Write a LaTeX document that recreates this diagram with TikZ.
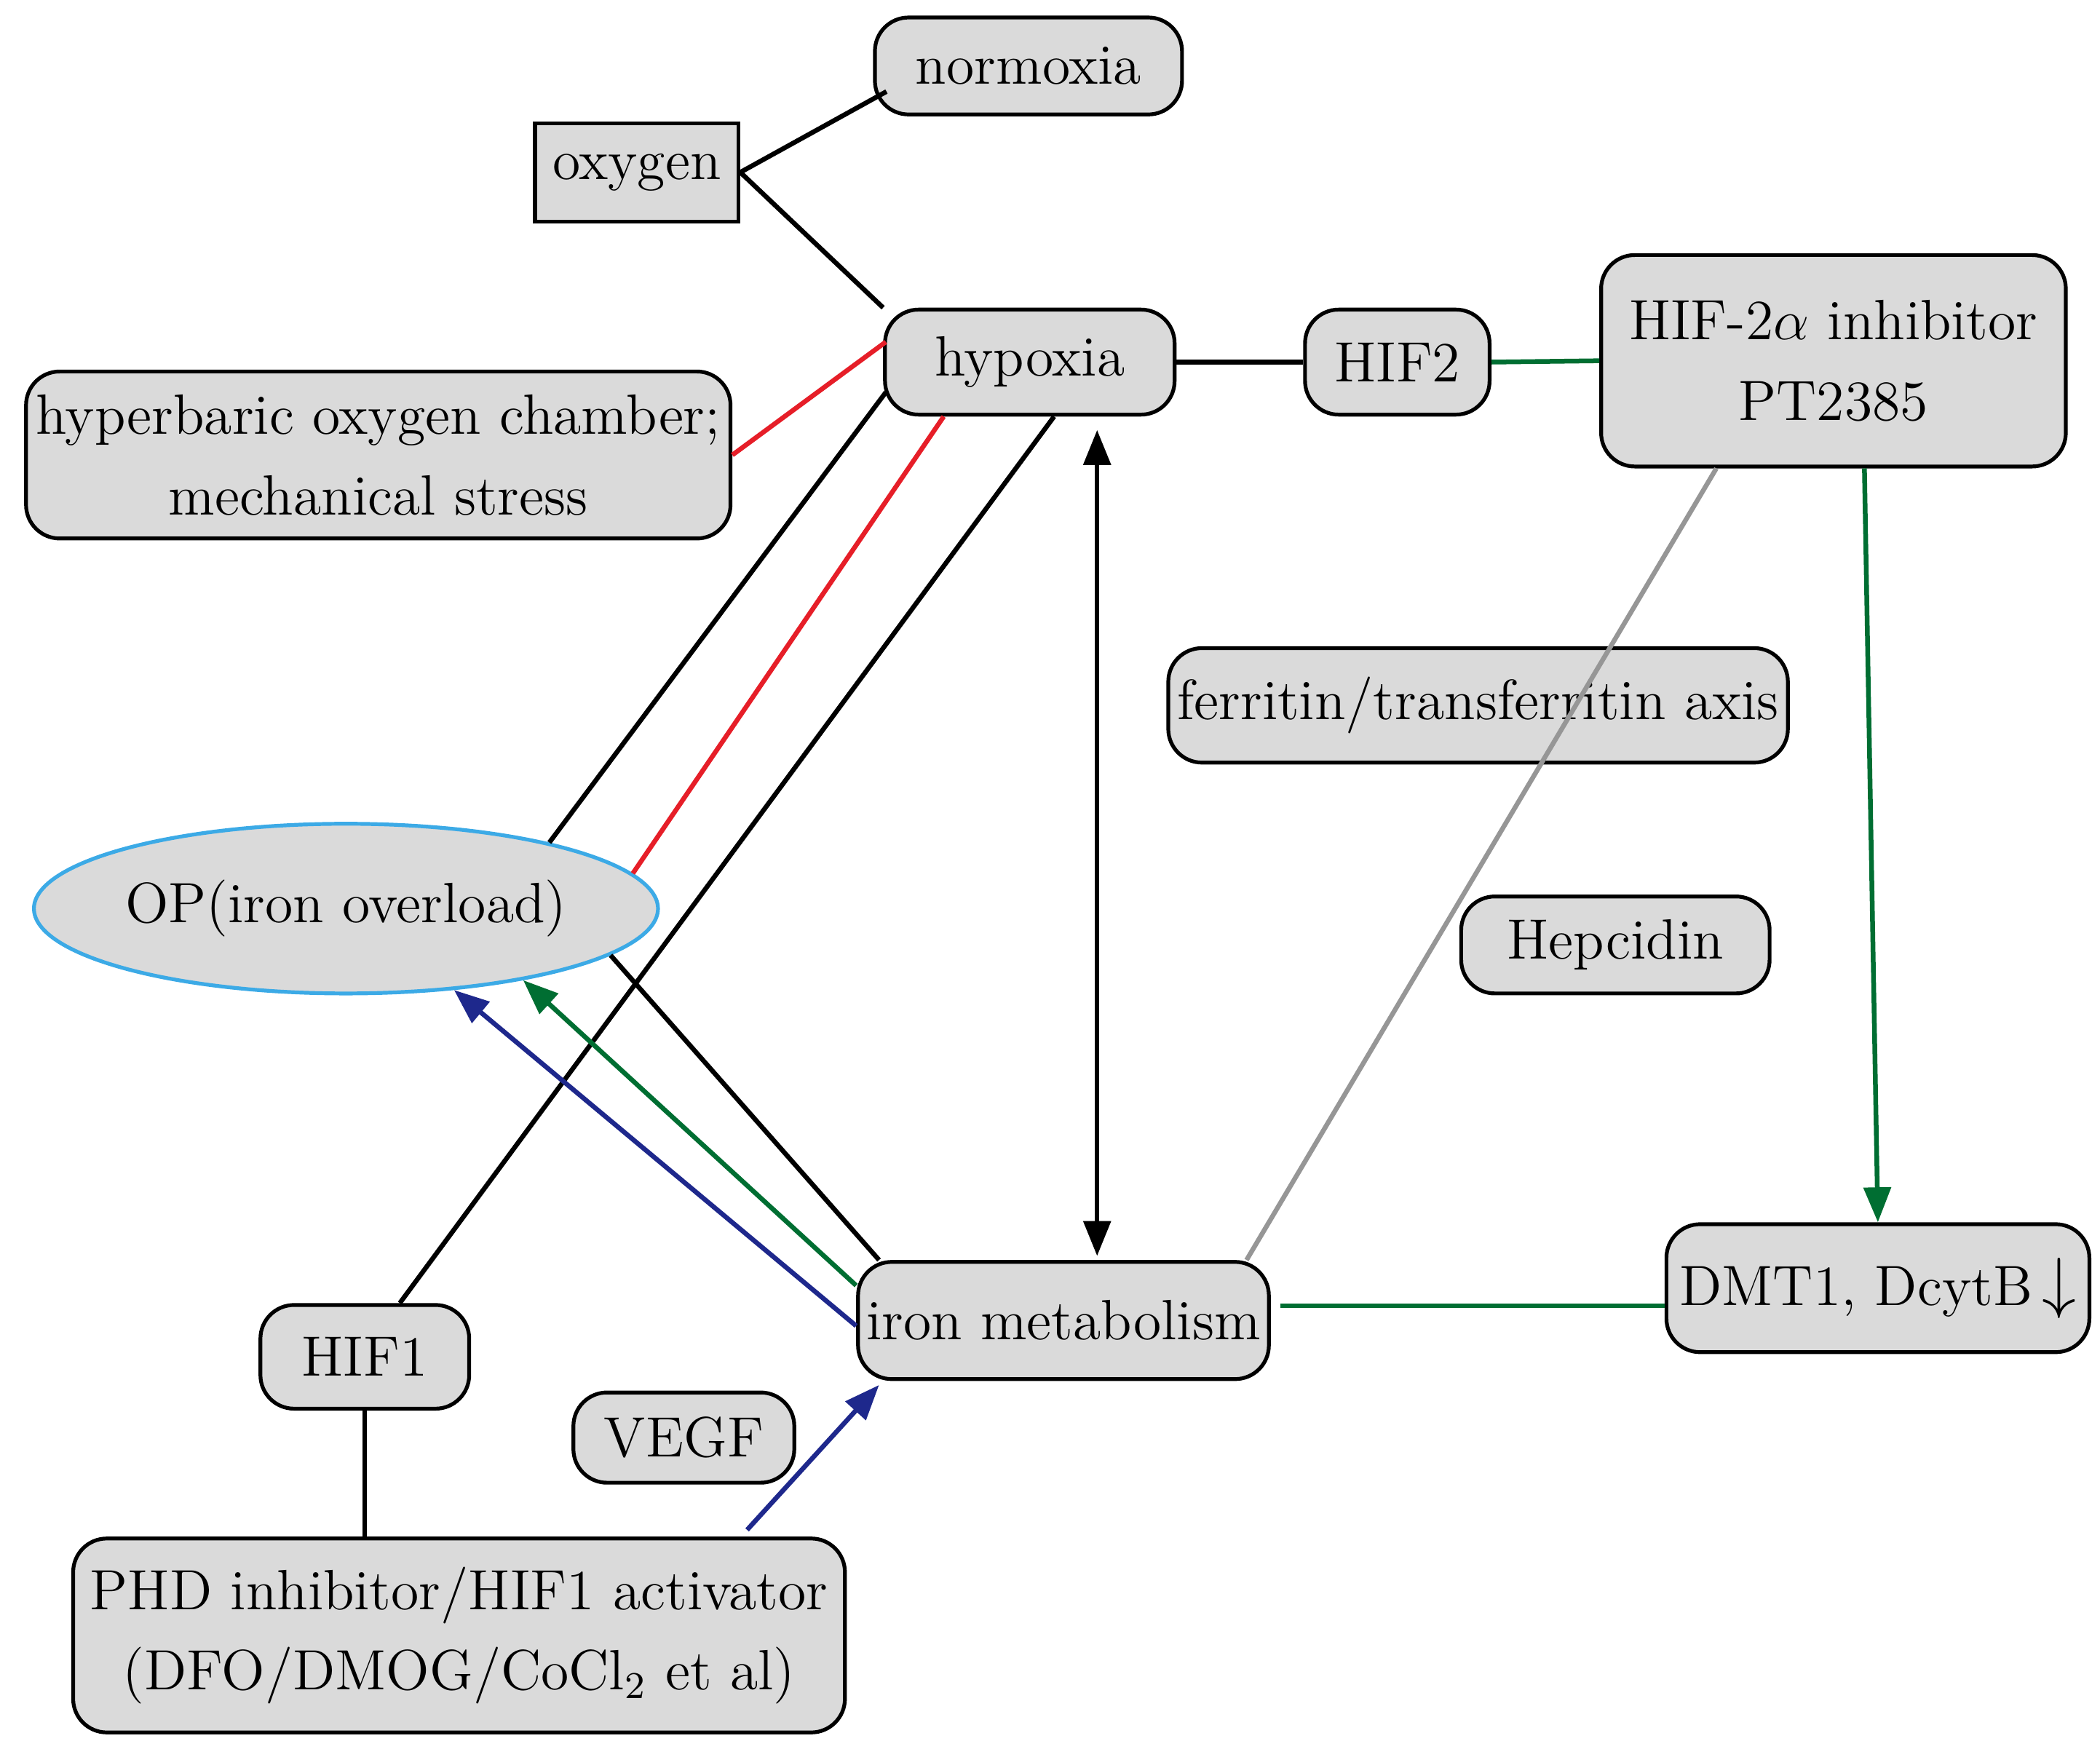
\documentclass[tikz,border=0pt]{standalone}
\usepackage{tikz}
\usetikzlibrary{arrows.meta, shapes.geometric}
\definecolor{boxgray}{RGB}{218,218,218}
\definecolor{linkred}{RGB}{230,30,40}
\definecolor{linkgreen}{RGB}{0,110,50}
\definecolor{linkblue}{RGB}{30,40,140}
\definecolor{linkgray}{RGB}{150,150,150}
\definecolor{ovalblue}{RGB}{60,170,230}
\tikzset{
    box/.style={draw=black, fill=boxgray, rounded corners=2.5mm, line width=0.8pt, align=center, inner sep=0pt, font=\fontsize{12}{17}\selectfont},
    link/.style={line width=1pt},
    tip/.style={-{Triangle[length=2.6mm,width=2mm]}}
}
\begin{document}
\begin{tikzpicture}[x=0.01cm, y=-0.01cm]
    \useasboundingbox (0,0) rectangle (1560,1293); % page frame

    \node [box, minimum width=2.28cm, minimum height=0.72cm] (normoxia) at (764,49) {normoxia}; % top
    \node [box, rounded corners=0pt, minimum width=1.51cm, minimum height=0.73cm] (oxygen) at (473,128) {oxygen}; % square box
    \node [box, minimum width=2.15cm, minimum height=0.78cm] (hypoxia) at (765,269) {hypoxia};
    \node [box, minimum width=5.23cm, minimum height=1.24cm] (hbo) at (281,338) {hyperbaric oxygen chamber;\\mechanical stress};
    \node [box, minimum width=1.37cm, minimum height=0.78cm] (HIF2) at (1038,269) {HIF2};
    \node [box, minimum width=3.45cm, minimum height=1.57cm] (inhib) at (1362,268) {HIF-2$\alpha$ inhibitor\\PT2385};
    \node [box, minimum width=4.6cm, minimum height=0.85cm] (ferritin) at (1098,524) {ferritin/transferritin axis};
    \node [box, ellipse, draw=ovalblue, minimum width=4.35cm, minimum height=1.26cm] (OP) at (257,675) {OP(iron overload)}; % oval
    \node [box, minimum width=2.29cm, minimum height=0.72cm] (hepc) at (1200,702) {Hepcidin};
    \node [box, minimum width=3.05cm, minimum height=0.87cm] (iron) at (790,981) {iron metabolism};
    \node [box, minimum width=3.14cm, minimum height=0.95cm] (DMT1) at (1395,957) {DMT1, DcytB\,{\Large$\downarrow$}};
    \node [box, minimum width=1.55cm, minimum height=0.77cm] (HIF1) at (271,1008) {HIF1};
    \node [box, minimum width=1.64cm, minimum height=0.67cm] (VEGF) at (508,1068) {VEGF};
    \node [box, minimum width=5.73cm, minimum height=1.44cm] (PHD) at (341,1215) {PHD inhibitor/HIF1 activator\\(DFO/DMOG/CoCl\textsubscript{2} et al)};

    % oxygen branches
    \draw [link] (oxygen.east) -- ([shift={(10,19)}]normoxia.west);
    \draw [link] (oxygen.east) -- (hypoxia.north west);
    \draw [link, linkred] (hbo.east) -- ([shift={(2,-15)}]hypoxia.west);

    % hypoxia to OP and HIF1
    \draw [link] (OP.18) -- ([shift={(2,-18)}]hypoxia.south west);
    \draw [link, linkred] (OP.7) -- ([shift={(45,0)}]hypoxia.south west);
    \draw [link] ([shift={(26,0)}]HIF1.north) -- ([shift={(127,0)}]hypoxia.south west);
    \draw [link, {Triangle[length=2.6mm,width=2mm]}-{Triangle[length=2.6mm,width=2mm]}] ([shift={(50,10)}]hypoxia.south) -- ([shift={(25,-3)}]iron.north);

    % HIF2 side
    \draw [link] (hypoxia.east) -- (HIF2.west);
    \draw [link, linkgreen] (HIF2.east) -- (inhib.west);
    \draw [link, linkgray] ([shift={(-87,0)}]inhib.south) -- ([shift={(-18,0)}]iron.north east);
    \draw [link, linkgreen, tip] ([shift={(23,0)}]inhib.south) -- (DMT1.north);
    \draw [link, linkgreen] ([shift={(7,-11)}]iron.east) -- ([shift={(0,13)}]DMT1.west);

    % iron metabolism to OP
    \draw [link] (OP.350) -- ([shift={(17,0)}]iron.north west);
    \draw [link, linkgreen, tip] ([shift={(0,-26)}]iron.west) -- (OP.338);
    \draw [link, linkblue, tip] ([shift={(0,4)}]iron.west) -- (OP.323);

    % bottom
    \draw [link] (HIF1.south) -- (HIF1.south |- PHD.north);
    \draw [link, linkblue, tip] ([shift={(214,-5)}]PHD.north) -- ([shift={(17,3)}]iron.south west);
\end{tikzpicture}
\end{document}
